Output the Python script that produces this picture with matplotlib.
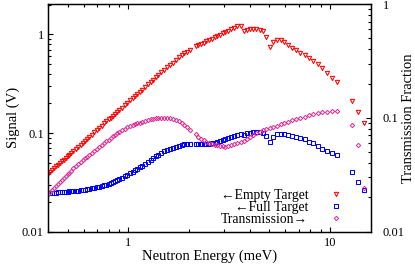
"""
Neutron transmission: empty / full target signal and transmission fraction
vs neutron energy. Saves out.png (415x265).
"""

import matplotlib
import matplotlib.pyplot as plt
import matplotlib.ticker as mticker

matplotlib.use("Agg")

plt.rcParams["font.family"] = ["Liberation Serif", "DejaVu Serif"]

# neutron energy (meV), shared by all three series
ENERGY = [
    0.40, 0.41, 0.42, 0.43, 0.44, 0.45, 0.46, 0.47, 0.48, 0.49, 0.50, 0.51,
    0.52, 0.535, 0.55, 0.565, 0.58, 0.595, 0.61, 0.625, 0.64, 0.66, 0.68,
    0.70, 0.72, 0.74, 0.76, 0.78, 0.80, 0.82, 0.84, 0.86, 0.88, 0.90, 0.93,
    0.96, 0.99,
    1.02, 1.05, 1.08, 1.11, 1.14, 1.17, 1.21, 1.25, 1.29, 1.33, 1.37, 1.41,
    1.46, 1.51, 1.56, 1.61, 1.66, 1.72, 1.78, 1.84, 1.90, 1.96, 2.02,
    2.16, 2.23, 2.30, 2.37, 2.44, 2.52, 2.60, 2.68, 2.76, 2.85, 2.94, 3.03,
    3.12, 3.22, 3.35, 3.48,
    3.62, 3.745, 3.878, 4.018, 4.165, 4.32, 4.485, 4.659, 4.843, 5.039,
    5.246, 5.467, 5.701, 5.952, 6.219, 6.504, 6.81, 7.138, 7.49, 7.868,
    8.276, 8.717, 9.194, 9.711, 10.273, 10.885,
    12.9, 13.8, 14.8,
]

# signal with empty target (V)
EMPTY = [
    0.0386, 0.0404, 0.0422, 0.0441, 0.0460, 0.0479, 0.0498, 0.0518, 0.0539,
    0.0560, 0.0581, 0.0602, 0.0624, 0.0657, 0.0691, 0.0726, 0.0761, 0.0798,
    0.0835, 0.0873, 0.0912, 0.0965, 0.1019, 0.1075, 0.1131, 0.1189, 0.1249,
    0.1310, 0.1372, 0.1435, 0.1500, 0.1566, 0.1633, 0.1702, 0.1807, 0.1916,
    0.2026,
    0.214, 0.2257, 0.2376, 0.2498, 0.2623, 0.2751, 0.2925, 0.3105, 0.329,
    0.3479, 0.3671, 0.387, 0.4126, 0.439, 0.464, 0.491, 0.518, 0.55, 0.585,
    0.616, 0.643, 0.669, 0.697,
    0.754, 0.775, 0.801, 0.826, 0.849, 0.878, 0.907, 0.935, 0.961, 0.993,
    1.026, 1.057, 1.09, 1.124, 1.169, 1.202,
    1.22, 1.09, 1.105, 1.13, 1.13, 1.12, 1.11, 1.07, 0.93, 0.75, 0.83, 0.875,
    0.875, 0.84, 0.78, 0.735, 0.69, 0.645, 0.615, 0.575, 0.54, 0.50, 0.455,
    0.41, 0.36, 0.326,
    0.21, 0.162, 0.125,
]

# signal with full target (V)
FULL = [
    0.0245, 0.0246, 0.0247, 0.0248, 0.0249, 0.0250, 0.0251, 0.0252, 0.0253,
    0.0254, 0.0255, 0.0256, 0.0257, 0.0258, 0.0260, 0.0261, 0.0263, 0.0265,
    0.0267, 0.0269, 0.0271, 0.0274, 0.0277, 0.0281, 0.0285, 0.0289, 0.0294,
    0.0299, 0.0305, 0.0311, 0.0318, 0.0325, 0.0332, 0.0340, 0.0352, 0.0364,
    0.0377,
    0.039, 0.0405, 0.042, 0.0435, 0.045, 0.0465, 0.0488, 0.051, 0.0535,
    0.0558, 0.058, 0.0602, 0.0628, 0.0652, 0.0675, 0.0695, 0.0712, 0.073,
    0.0745, 0.0757, 0.0765, 0.077, 0.0773,
    0.0775, 0.0775, 0.0776, 0.0777, 0.0778, 0.078, 0.0785, 0.0792, 0.0805,
    0.0825, 0.0845, 0.0865, 0.0885, 0.0905, 0.093, 0.0955,
    0.098, 0.0955, 0.0995, 0.101, 0.1015, 0.1018, 0.1018, 0.1005, 0.094,
    0.082, 0.0915, 0.097, 0.0975, 0.097, 0.0955, 0.0935, 0.092, 0.0895,
    0.086, 0.082, 0.0785, 0.074, 0.0695, 0.065, 0.0622, 0.0598,
    0.0405, 0.032, 0.0265,
]

# transmission fraction (right axis)
TRANS = [
    0.0214, 0.0224, 0.0233, 0.0244, 0.0254, 0.0264, 0.0275, 0.0285, 0.0296,
    0.0307, 0.0318, 0.0330, 0.0341, 0.0359, 0.0377, 0.0393, 0.0409, 0.0426,
    0.0441, 0.0456, 0.0471, 0.0492, 0.0513, 0.0534, 0.0556, 0.0578, 0.0600,
    0.0622, 0.0644, 0.0665, 0.0687, 0.0708, 0.0729, 0.0748, 0.0777, 0.0806,
    0.0835,
    0.085, 0.0865, 0.088, 0.0895, 0.091, 0.0925, 0.094, 0.0955, 0.097, 0.098,
    0.099, 0.0998, 0.1003, 0.1005, 0.1000, 0.0990, 0.0975, 0.0955, 0.093,
    0.090, 0.0865, 0.083, 0.079,
    0.0715, 0.0685, 0.0658, 0.0635, 0.0617, 0.0602, 0.059, 0.058, 0.0572,
    0.0566, 0.0562, 0.056, 0.057, 0.0578, 0.059, 0.0605,
    0.0615, 0.063, 0.0655, 0.068, 0.0705, 0.073, 0.0752, 0.0775, 0.0795,
    0.0812, 0.0835, 0.0855, 0.0878, 0.09, 0.0925, 0.095, 0.0975, 0.1,
    0.1025, 0.105, 0.1075, 0.1095, 0.1115, 0.1132, 0.1148, 0.116,
    0.0868, 0.058, 0.0241,
]

RED = "#ff0000"
BLUE = "#0000ff"
MAGENTA = "#dd3399"
TICK_FS = 9
LEGEND_FS = 9.8
LABEL_FS = 10.5


def log_axis_style(axis):
    axis.set_minor_locator(mticker.LogLocator(base=10, subs=range(2, 10)))
    axis.set_minor_formatter(mticker.NullFormatter())


def main():
    fig = plt.figure(figsize=(4.15, 2.65), dpi=100, facecolor="white")
    ax = fig.add_axes([0.1157, 0.1257, 0.7783, 0.8592])
    ax2 = ax.twinx()

    h_empty, = ax.plot(ENERGY, EMPTY, linestyle="none", marker="v",
                       markersize=3.1, markerfacecolor="none",
                       markeredgecolor=RED, markeredgewidth=0.75)
    h_full, = ax.plot(ENERGY, FULL, linestyle="none", marker="s",
                      markersize=3.0, markerfacecolor="none",
                      markeredgecolor=BLUE, markeredgewidth=0.75)
    h_trans, = ax2.plot(ENERGY, TRANS, linestyle="none", marker="D",
                        markersize=2.2, markerfacecolor="none",
                        markeredgecolor=MAGENTA, markeredgewidth=0.75)

    ax.set_xscale("log")
    ax.set_yscale("log")
    ax2.set_yscale("log")
    ax.set_xlim(0.4, 16)
    ax.set_ylim(0.01, 2.03)
    ax2.set_ylim(0.01, 1.0)

    ax.set_xticks([1, 10])
    ax.set_xticklabels(["1", "10"])
    ax.set_yticks([0.01, 0.1, 1])
    ax.set_yticklabels(["0.01", "0.1", "1"])
    ax2.set_yticks([0.01, 0.1, 1])
    ax2.set_yticklabels(["0.01", "0.1", "1"])
    log_axis_style(ax.xaxis)
    log_axis_style(ax.yaxis)
    log_axis_style(ax2.yaxis)

    ax.tick_params(which="both", direction="in", top=True, right=False,
                   labelsize=TICK_FS, width=0.8)
    ax.tick_params(which="major", length=3.8)
    ax.tick_params(which="minor", length=2.0)
    ax.tick_params(axis="y", pad=3)
    ax.tick_params(axis="x", pad=3.5)
    ax2.tick_params(which="both", direction="in", left=False,
                    labelsize=TICK_FS, width=0.8, pad=8.5)
    ax2.tick_params(which="major", length=3.8)
    ax2.tick_params(which="minor", length=2.0)

    for a in (ax, ax2):
        for spine in a.spines.values():
            spine.set_linewidth(0.9)

    ax.set_xlabel("Neutron Energy (meV)", fontsize=LABEL_FS)
    ax.set_ylabel("Signal (V)", fontsize=LABEL_FS)
    ax2.set_ylabel("Transmission Fraction", fontsize=LABEL_FS)
    ax.xaxis.set_label_coords(0.5, -0.08)
    ax.yaxis.set_label_coords(-0.088, 0.5)
    ax2.yaxis.set_label_coords(1.096, 0.5)

    leg = ax2.legend([h_empty, h_full, h_trans],
                     ["\u2190Empty Target", "\u2190Full Target",
                      "Transmission\u2192"],
                     loc="lower right", bbox_to_anchor=(0.913, 0.024),
                     markerfirst=False, frameon=False, numpoints=1,
                     handlelength=1.0, handletextpad=1.55, labelspacing=-0.05,
                     borderpad=0, borderaxespad=0, fontsize=LEGEND_FS)
    leg.set_zorder(5)

    fig.savefig("out.png", dpi=100, facecolor="white")
    plt.close(fig)


if __name__ == "__main__":
    main()
